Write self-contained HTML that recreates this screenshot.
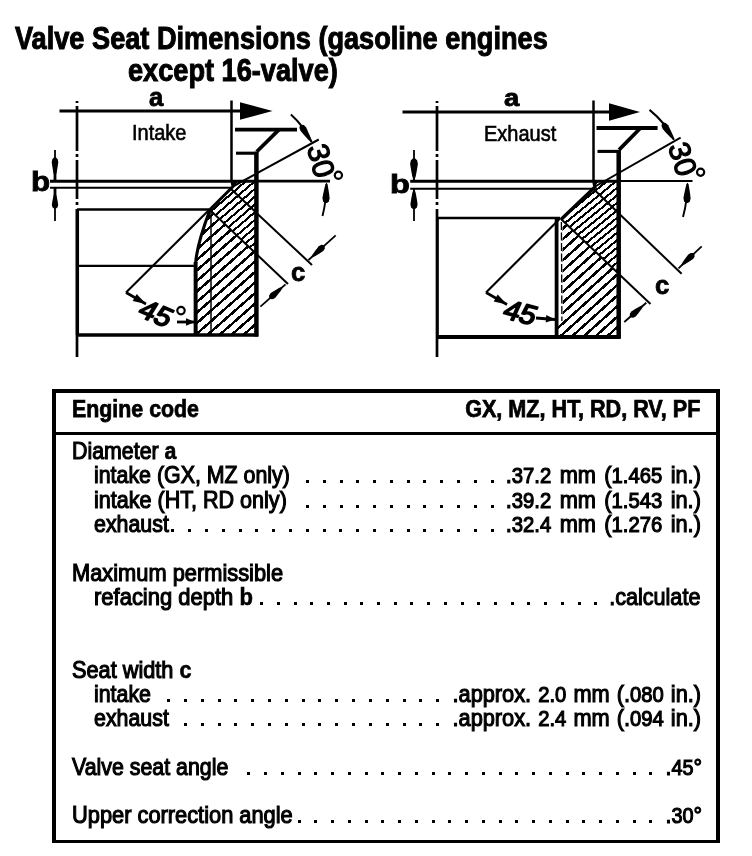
<!DOCTYPE html>
<html><head><meta charset="utf-8"><title>Valve Seat Dimensions</title><style>
html,body{margin:0;padding:0;background:#fff}
html{filter:grayscale(1)}
body{width:752px;height:856px;position:relative;overflow:hidden;font-family:"Liberation Sans",sans-serif;color:#000}
.t{position:absolute;white-space:pre;line-height:1;font-family:"Liberation Sans",sans-serif;color:#000}
.t b{font-weight:bold}
i{position:absolute;width:3px;height:3px;background:#000;display:block}
.fr{position:absolute;background:#000}
.hdr{position:absolute;left:54px;top:432px;width:664px;height:2.8px;background:#000}
.st{font-family:"Liberation Sans",sans-serif;fill:#000}
</style></head>
<body>
<svg width="752" height="380" viewBox="0 0 752 380" style="position:absolute;left:0;top:0"><path d="M77 101V357" stroke="#000" stroke-width="2.7" stroke-dasharray="2 3 45 3 3 3 39 3 3 4 150 0" stroke-dashoffset="0" fill="none"/><path d="M59.5 111H242" stroke="#000" stroke-width="3.1"/><path d="M240 102.3L272.5 111L240 119.7Z" fill="#000"/><path d="M231.5 100.5V182" stroke="#000" stroke-width="2.5"/><path d="M50 181.2H256.4" stroke="#000" stroke-width="3"/><path d="M256.4 181.1H330" stroke="#000" stroke-width="2.8"/><path d="M50 187.8H231" stroke="#000" stroke-width="1.9"/><path d="M55 150V160M55 205V221" stroke="#000" stroke-width="1.8"/><path d="M55 170V181M55 188V198" stroke="#000" stroke-width="2.8"/><path d="M54.6 176.5L53.4 172.7L52.4 167.0L51.7 162.1L52.4 159.0L54.0 157.5L56.0 157.5L57.6 159.0L58.3 162.1L57.6 167.0L56.6 172.7L55.4 176.5ZM55.4 192.5L56.5 195.7L57.5 200.5L58.2 204.7L57.6 207.2L56.0 208.5L54.0 208.5L52.4 207.2L51.8 204.7L52.5 200.5L53.5 195.7L54.6 192.5Z" fill="#000"/><clipPath id="cpinA"><path d="M233 181L256.4 181L256.4 254.8L210.3 209.5L233 186.5Z"/></clipPath><g clip-path="url(#cpinA)"><path d="M193.0 164.85L258.0 108.95M193.0 172.58L258.0 116.68M193.0 180.31L258.0 124.41M193.0 188.04L258.0 132.14M193.0 195.77L258.0 139.87M193.0 203.50L258.0 147.60M193.0 211.23L258.0 155.33M193.0 218.96L258.0 163.06M193.0 226.69L258.0 170.79M193.0 234.42L258.0 178.52M193.0 242.15L258.0 186.25M193.0 249.88L258.0 193.98M193.0 257.61L258.0 201.71M193.0 265.34L258.0 209.44M193.0 273.07L258.0 217.17M193.0 280.80L258.0 224.90M193.0 288.53L258.0 232.63M193.0 296.26L258.0 240.36M193.0 303.99L258.0 248.09M193.0 311.72L258.0 255.82M193.0 319.45L258.0 263.55M193.0 327.18L258.0 271.28M193.0 334.91L258.0 279.01M193.0 342.64L258.0 286.74M193.0 350.37L258.0 294.47M193.0 358.10L258.0 302.20M193.0 365.83L258.0 309.93M193.0 373.56L258.0 317.66M193.0 381.29L258.0 325.39M193.0 389.02L258.0 333.12M193.0 396.75L258.0 340.85M193.0 404.48L258.0 348.58" stroke="#000" stroke-width="2.1" fill="none" shape-rendering="crispEdges"/></g><clipPath id="cpinB"><path d="M210.3 209.5L256.4 254.8L256.4 335L195.5 335L195.5 264C196.2 252 200.8 234 210.3 209Z"/></clipPath><g clip-path="url(#cpinB)"><path d="M193.0 168.28L258.0 111.08M193.0 178.83L258.0 121.63M193.0 189.38L258.0 132.18M193.0 199.93L258.0 142.73M193.0 210.48L258.0 153.28M193.0 221.03L258.0 163.83M193.0 231.58L258.0 174.38M193.0 242.13L258.0 184.93M193.0 252.68L258.0 195.48M193.0 263.23L258.0 206.03M193.0 273.78L258.0 216.58M193.0 284.33L258.0 227.13M193.0 294.88L258.0 237.68M193.0 305.43L258.0 248.23M193.0 315.98L258.0 258.78M193.0 326.53L258.0 269.33M193.0 337.08L258.0 279.88M193.0 347.63L258.0 290.43M193.0 358.18L258.0 300.98M193.0 368.73L258.0 311.53M193.0 379.28L258.0 322.08M193.0 389.83L258.0 332.63M193.0 400.38L258.0 343.18M193.0 410.93L258.0 353.73" stroke="#000" stroke-width="2.5" fill="none" shape-rendering="crispEdges"/></g><path d="M77 209.5H209" stroke="#000" stroke-width="2.3"/><path d="M77.4 209V335" stroke="#000" stroke-width="3.3"/><path d="M77 265.8H195" stroke="#000" stroke-width="2.2"/><path d="M195.6 335V264C196.2 252 200.8 234 210.3 209" stroke="#000" stroke-width="3.1" fill="none"/><path d="M195.6 335V262" stroke="#000" stroke-width="3.9"/><path d="M211 209V335" stroke="#000" stroke-width="1.5"/><path d="M210 209.5L233 186.5L232 181.5" stroke="#000" stroke-width="3" fill="none" stroke-linejoin="round"/><path d="M76 335H258.2" stroke="#000" stroke-width="3.4"/><path d="M256.4 151.7V336.6" stroke="#000" stroke-width="4.5"/><path d="M235 129.6H297" stroke="#000" stroke-width="3.6"/><path d="M279 129.6L256.7 151.7" stroke="#000" stroke-width="3.7"/><path d="M236 153.2H256.4" stroke="#000" stroke-width="3.1"/><path d="M233.7 186L318.75 139.5" stroke="#000" stroke-width="2"/><path d="M290.9 114.5A89.5 89.5 0 0 1 311.6 142.0" stroke="#000" stroke-width="2" fill="none"/><path d="M311.2 142.3L308.1 139.5L304.0 135.0L300.6 131.0L299.4 128.0L299.9 125.7L301.6 124.7L303.9 125.1L306.2 127.5L308.3 132.2L310.7 137.8L311.9 141.8Z" fill="#000"/><path d="M326.5 184Q326.5 200 322.5 216" stroke="#000" stroke-width="1.9" fill="none"/><path d="M326.9 183.0L328.0 187.0L329.0 193.1L329.6 198.3L328.8 201.5L327.0 203.0L324.8 203.0L323.1 201.3L322.4 198.1L323.4 192.9L324.7 186.9L326.1 183.0Z" fill="#000"/><text x="0" y="10.7" transform="translate(321.4 160.5) rotate(75)" text-anchor="middle" font-size="30" stroke="#000" stroke-width="1.2" stroke-linejoin="round" class="st">30</text><circle cx="338.4" cy="175.3" r="3.6" fill="none" stroke="#000" stroke-width="2.2"/><path d="M231 188.9L312 265" stroke="#000" stroke-width="2"/><path d="M210 210L288 284" stroke="#000" stroke-width="2"/><path d="M335.7 235.3L308.5 260" stroke="#000" stroke-width="1.8"/><path d="M311.2 257.0L312.9 253.9L316.0 249.7L318.8 246.2L321.3 244.8L323.4 245.1L324.7 246.6L324.8 248.8L323.2 251.1L319.5 253.5L315.0 256.2L311.7 257.6Z" fill="#000"/><path d="M260.4 306.7L285.5 284.3" stroke="#000" stroke-width="1.8"/><path d="M282.8 287.3L281.0 290.4L277.9 294.5L275.1 298.0L272.6 299.3L270.5 299.0L269.2 297.5L269.1 295.4L270.7 293.1L274.5 290.7L278.9 288.1L282.2 286.7Z" fill="#000"/><path d="M209.5 209.5L126 292.5" stroke="#000" stroke-width="2.1"/><path d="M126 292.5L146 304" stroke="#000" stroke-width="2.6"/><path d="M146.0 304.0L132.7 301.0L136.7 294.1Z" fill="#000"/><text x="0" y="9.8" transform="translate(156.4 313.1) rotate(23) skewX(-9) scale(1.05 1)" text-anchor="middle" font-size="27.5" stroke="#000" stroke-width="1.7" stroke-linejoin="round" class="st">45</text><circle cx="181" cy="310.6" r="3.7" fill="none" stroke="#000" stroke-width="2.2"/><path d="M177 322L195 322" stroke="#000" stroke-width="2.8"/><path d="M195.0 322.0L186.0 325.8L186.0 318.2Z" fill="#000"/><path d="M437 101V357" stroke="#000" stroke-width="2.7" stroke-dasharray="2 3 45 3 3 3 39 3 3 4 150 0" stroke-dashoffset="0" fill="none"/><path d="M402.5 112H611" stroke="#000" stroke-width="3.1"/><path d="M609 103.3L640 112L609 120.7Z" fill="#000"/><path d="M593.5 100.5V182" stroke="#000" stroke-width="2.5"/><path d="M410.2 181.2H618.7" stroke="#000" stroke-width="3"/><path d="M618.7 181.1H692.5" stroke="#000" stroke-width="2.0"/><path d="M410.2 188.8H592" stroke="#000" stroke-width="1.9"/><path d="M414 150V181M414 188V221" stroke="#000" stroke-width="1.8"/><path d="M413.6 180.5L412.2 176.1L411.0 169.5L410.1 163.8L410.9 160.3L412.8 158.5L415.2 158.5L417.1 160.3L417.9 163.8L417.0 169.5L415.8 176.1L414.4 180.5ZM414.4 189.0L415.7 193.0L416.8 199.0L417.6 204.2L416.9 207.4L415.1 209.0L412.9 209.0L411.1 207.4L410.4 204.2L411.2 199.0L412.3 193.0L413.6 189.0Z" fill="#000"/><clipPath id="cpexA"><path d="M594 181L618.7 181L618.7 273.8L561.3 219L595 187Z"/></clipPath><g clip-path="url(#cpexA)"><path d="M555.0 171.45L621.0 117.33M555.0 178.93L621.0 124.81M555.0 186.41L621.0 132.29M555.0 193.89L621.0 139.77M555.0 201.37L621.0 147.25M555.0 208.85L621.0 154.73M555.0 216.33L621.0 162.21M555.0 223.81L621.0 169.69M555.0 231.29L621.0 177.17M555.0 238.77L621.0 184.65M555.0 246.25L621.0 192.13M555.0 253.73L621.0 199.61M555.0 261.21L621.0 207.09M555.0 268.69L621.0 214.57M555.0 276.17L621.0 222.05M555.0 283.65L621.0 229.53M555.0 291.13L621.0 237.01M555.0 298.61L621.0 244.49M555.0 306.09L621.0 251.97M555.0 313.57L621.0 259.45M555.0 321.05L621.0 266.93M555.0 328.53L621.0 274.41M555.0 336.01L621.0 281.89M555.0 343.49L621.0 289.37M555.0 350.97L621.0 296.85M555.0 358.45L621.0 304.33M555.0 365.93L621.0 311.81M555.0 373.41L621.0 319.29M555.0 380.89L621.0 326.77M555.0 388.37L621.0 334.25M555.0 395.85L621.0 341.73M555.0 403.33L621.0 349.21" stroke="#000" stroke-width="2.1" fill="none" shape-rendering="crispEdges"/></g><clipPath id="cpexB"><path d="M562.5 220L618.7 273.8L618.7 337L557 337L557 322L562.8 322Z"/></clipPath><g clip-path="url(#cpexB)"><path d="M555.0 161.93L621.0 102.53M555.0 172.47L621.0 113.07M555.0 183.01L621.0 123.61M555.0 193.55L621.0 134.15M555.0 204.09L621.0 144.69M555.0 214.63L621.0 155.23M555.0 225.17L621.0 165.77M555.0 235.71L621.0 176.31M555.0 246.25L621.0 186.85M555.0 256.79L621.0 197.39M555.0 267.33L621.0 207.93M555.0 277.87L621.0 218.47M555.0 288.41L621.0 229.01M555.0 298.95L621.0 239.55M555.0 309.49L621.0 250.09M555.0 320.03L621.0 260.63M555.0 330.57L621.0 271.17M555.0 341.11L621.0 281.71M555.0 351.65L621.0 292.25M555.0 362.19L621.0 302.79M555.0 372.73L621.0 313.33M555.0 383.27L621.0 323.87M555.0 393.81L621.0 334.41M555.0 404.35L621.0 344.95M555.0 414.89L621.0 355.49" stroke="#000" stroke-width="2.5" fill="none" shape-rendering="crispEdges"/></g><path d="M437 218.0H560" stroke="#000" stroke-width="2.3"/><path d="M437.4 217.5V337" stroke="#000" stroke-width="2.7"/><path d="M556.6 217V337" stroke="#000" stroke-width="3.8"/><path d="M561.4 222L561.9 321" stroke="#000" stroke-width="1.3" stroke-dasharray="8 2.5"/><path d="M561 219.5L595 187L594 182" stroke="#000" stroke-width="3.5" fill="none" stroke-linejoin="round"/><path d="M436 337H620.5" stroke="#000" stroke-width="3.9"/><path d="M618.7 149.9V338.6" stroke="#000" stroke-width="4.5"/><path d="M596.5 128H657.6" stroke="#000" stroke-width="4.2"/><path d="M640.5 128L619.0 149.9" stroke="#000" stroke-width="3.7"/><path d="M597.5 151.4H618.7" stroke="#000" stroke-width="3.1"/><path d="M596 186L680.6 137.6" stroke="#000" stroke-width="2"/><path d="M649.5 109.9A90.8 90.8 0 0 1 673.9 139.8" stroke="#000" stroke-width="2" fill="none"/><path d="M673.6 140.0L670.4 137.3L666.2 132.9L662.7 129.0L661.5 126.0L661.9 123.7L663.6 122.6L665.8 123.0L668.2 125.3L670.5 130.0L673.0 135.6L674.2 139.6Z" fill="#000"/><path d="M687.5 184Q687.5 200 683 217" stroke="#000" stroke-width="1.9" fill="none"/><path d="M687.9 183.0L689.0 187.0L690.0 193.1L690.6 198.3L689.8 201.5L688.0 203.0L685.8 203.0L684.1 201.3L683.4 198.1L684.4 192.9L685.7 186.9L687.1 183.0Z" fill="#000"/><text x="0" y="10.7" transform="translate(683 158.9) rotate(72)" text-anchor="middle" font-size="30" stroke="#000" stroke-width="1.2" stroke-linejoin="round" class="st">30</text><circle cx="700.6" cy="172.25" r="3.6" fill="none" stroke="#000" stroke-width="2.2"/><path d="M594 189.5L681.6 273.8" stroke="#000" stroke-width="2"/><path d="M561 219L650.5 304" stroke="#000" stroke-width="2"/><path d="M701.7 246.3L678.5 268.3" stroke="#000" stroke-width="1.8"/><path d="M681.1 265.3L682.8 262.1L685.8 257.8L688.5 254.3L690.9 252.9L693.1 253.1L694.4 254.6L694.6 256.7L693.0 259.1L689.3 261.6L684.9 264.3L681.7 265.8Z" fill="#000"/><path d="M624.3 322L646.3 302.8" stroke="#000" stroke-width="1.8"/><path d="M643.5 305.7L641.7 308.8L638.6 313.0L635.7 316.4L633.2 317.7L631.1 317.4L629.8 315.9L629.8 313.7L631.4 311.4L635.2 309.1L639.7 306.5L643.0 305.1Z" fill="#000"/><path d="M560 218.5L486 292.5" stroke="#000" stroke-width="2.1"/><path d="M486 292.5L507 304.5" stroke="#000" stroke-width="2.6"/><path d="M507.0 304.5L493.7 301.5L497.7 294.6Z" fill="#000"/><text x="0" y="9.8" transform="translate(520.7 312.3) rotate(15) skewX(-9) scale(1.05 1)" text-anchor="middle" font-size="27.5" stroke="#000" stroke-width="1.7" stroke-linejoin="round" class="st">45</text><path d="M536 318L555 319.5" stroke="#000" stroke-width="2.8"/><path d="M555.0 319.5L545.7 322.6L546.3 315.0Z" fill="#000"/></svg>
<div class="t" style="left:15.0px;transform-origin:0 0;top:23.06px;font-size:31px;font-weight:bold;transform:scaleX(0.876);-webkit-text-stroke:1.0px #000;">Valve Seat Dimensions (gasoline engines</div>
<div class="t" style="left:127.95px;transform-origin:0 0;top:55.36px;font-size:31px;font-weight:bold;transform:scaleX(0.876);-webkit-text-stroke:1.0px #000;">except 16-valve)</div>
<div class="fr" style="left:51.9px;top:389px;width:668.1px;height:4px"></div><div class="fr" style="left:51.9px;top:839.5px;width:668.1px;height:3.5px"></div><div class="fr" style="left:51.9px;top:389px;width:3.7px;height:454px"></div><div class="fr" style="left:716px;top:389px;width:4px;height:454px"></div><div class="hdr"></div>
<div class="t" style="left:71.6px;transform-origin:0 0;top:397.08px;font-size:24px;font-weight:bold;transform:scaleX(0.89);-webkit-text-stroke:0.75px #000;">Engine code</div>
<div class="t" style="right:51.5px;transform-origin:100% 0;top:397.08px;font-size:24px;font-weight:bold;transform:scaleX(0.9);-webkit-text-stroke:0.75px #000;">GX, MZ, HT, RD, RV, PF</div>
<div class="t" style="left:71.6px;transform-origin:0 0;top:438.98px;font-size:24px;font-weight:normal;transform:scaleX(0.89);-webkit-text-stroke:1.15px #000;">Diameter <b style="-webkit-text-stroke:0.6px #000">a</b></div>
<div class="t" style="left:94.3px;transform-origin:0 0;top:462.88px;font-size:24px;font-weight:normal;transform:scaleX(0.89);-webkit-text-stroke:1.15px #000;">intake (GX, MZ only)</div>
<div class="t" style="right:51.0px;transform-origin:100% 0;top:462.88px;font-size:24px;font-weight:normal;transform:scaleX(0.908);-webkit-text-stroke:1.15px #000;word-spacing:2.55px">.<span style="font-size:0.93em">37.2</span> mm (<span style="font-size:0.93em">1.465</span> in.)</div>
<i style="left:490.52px;top:479.90px"></i><i style="left:473.74px;top:479.90px"></i><i style="left:456.96px;top:479.90px"></i><i style="left:440.18px;top:479.90px"></i><i style="left:423.40px;top:479.90px"></i><i style="left:406.62px;top:479.90px"></i><i style="left:389.84px;top:479.90px"></i><i style="left:373.06px;top:479.90px"></i><i style="left:356.28px;top:479.90px"></i><i style="left:339.50px;top:479.90px"></i><i style="left:322.72px;top:479.90px"></i><i style="left:305.94px;top:479.90px"></i>
<div class="t" style="left:94.3px;transform-origin:0 0;top:487.58px;font-size:24px;font-weight:normal;transform:scaleX(0.898);-webkit-text-stroke:1.15px #000;">intake (HT, RD only)</div>
<div class="t" style="right:51.0px;transform-origin:100% 0;top:487.58px;font-size:24px;font-weight:normal;transform:scaleX(0.908);-webkit-text-stroke:1.15px #000;word-spacing:2.55px">.<span style="font-size:0.93em">39.2</span> mm (<span style="font-size:0.93em">1.543</span> in.)</div>
<i style="left:490.52px;top:504.60px"></i><i style="left:473.74px;top:504.60px"></i><i style="left:456.96px;top:504.60px"></i><i style="left:440.18px;top:504.60px"></i><i style="left:423.40px;top:504.60px"></i><i style="left:406.62px;top:504.60px"></i><i style="left:389.84px;top:504.60px"></i><i style="left:373.06px;top:504.60px"></i><i style="left:356.28px;top:504.60px"></i><i style="left:339.50px;top:504.60px"></i><i style="left:322.72px;top:504.60px"></i><i style="left:305.94px;top:504.60px"></i>
<div class="t" style="left:94.3px;transform-origin:0 0;top:512.08px;font-size:24px;font-weight:normal;transform:scaleX(0.89);-webkit-text-stroke:1.15px #000;">exhaust</div>
<div class="t" style="right:51.0px;transform-origin:100% 0;top:512.08px;font-size:24px;font-weight:normal;transform:scaleX(0.908);-webkit-text-stroke:1.15px #000;word-spacing:2.55px">.<span style="font-size:0.93em">32.4</span> mm (<span style="font-size:0.93em">1.276</span> in.)</div>
<i style="left:490.50px;top:529.10px"></i><i style="left:473.70px;top:529.10px"></i><i style="left:456.90px;top:529.10px"></i><i style="left:440.10px;top:529.10px"></i><i style="left:423.30px;top:529.10px"></i><i style="left:406.50px;top:529.10px"></i><i style="left:389.70px;top:529.10px"></i><i style="left:372.90px;top:529.10px"></i><i style="left:356.10px;top:529.10px"></i><i style="left:339.30px;top:529.10px"></i><i style="left:322.50px;top:529.10px"></i><i style="left:305.70px;top:529.10px"></i><i style="left:288.90px;top:529.10px"></i><i style="left:272.10px;top:529.10px"></i><i style="left:255.30px;top:529.10px"></i><i style="left:238.50px;top:529.10px"></i><i style="left:221.70px;top:529.10px"></i><i style="left:204.90px;top:529.10px"></i><i style="left:188.10px;top:529.10px"></i><i style="left:171.30px;top:529.10px"></i>
<div class="t" style="left:71.6px;transform-origin:0 0;top:560.58px;font-size:24px;font-weight:normal;transform:scaleX(0.9095);-webkit-text-stroke:1.15px #000;">Maximum permissible</div>
<div class="t" style="left:94.3px;transform-origin:0 0;top:585.08px;font-size:24px;font-weight:normal;transform:scaleX(0.916);-webkit-text-stroke:1.15px #000;">refacing depth <b style="-webkit-text-stroke:0.6px #000">b</b></div>
<div class="t" style="right:51.5px;transform-origin:100% 0;top:585.08px;font-size:24px;font-weight:normal;transform:scaleX(0.9);-webkit-text-stroke:1.15px #000;">.calculate</div>
<i style="left:594.29px;top:602.10px"></i><i style="left:577.58px;top:602.10px"></i><i style="left:560.87px;top:602.10px"></i><i style="left:544.16px;top:602.10px"></i><i style="left:527.45px;top:602.10px"></i><i style="left:510.74px;top:602.10px"></i><i style="left:494.03px;top:602.10px"></i><i style="left:477.32px;top:602.10px"></i><i style="left:460.61px;top:602.10px"></i><i style="left:443.90px;top:602.10px"></i><i style="left:427.19px;top:602.10px"></i><i style="left:410.48px;top:602.10px"></i><i style="left:393.77px;top:602.10px"></i><i style="left:377.06px;top:602.10px"></i><i style="left:360.35px;top:602.10px"></i><i style="left:343.64px;top:602.10px"></i><i style="left:326.93px;top:602.10px"></i><i style="left:310.22px;top:602.10px"></i><i style="left:293.51px;top:602.10px"></i><i style="left:276.80px;top:602.10px"></i><i style="left:260.09px;top:602.10px"></i>
<div class="t" style="left:71.6px;transform-origin:0 0;top:658.08px;font-size:24px;font-weight:normal;transform:scaleX(0.905);-webkit-text-stroke:1.15px #000;">Seat width <b style="-webkit-text-stroke:0.6px #000">c</b></div>
<div class="t" style="left:94.3px;transform-origin:0 0;top:682.08px;font-size:24px;font-weight:normal;transform:scaleX(0.89);-webkit-text-stroke:1.15px #000;">intake</div>
<div class="t" style="right:51.0px;transform-origin:100% 0;top:682.08px;font-size:24px;font-weight:normal;transform:scaleX(0.907);-webkit-text-stroke:1.15px #000;word-spacing:1.1px">.approx. <span style="font-size:0.93em">2.0</span> mm (.<span style="font-size:0.93em">080</span> in.)</div>
<i style="left:436.18px;top:699.10px"></i><i style="left:419.36px;top:699.10px"></i><i style="left:402.54px;top:699.10px"></i><i style="left:385.72px;top:699.10px"></i><i style="left:368.90px;top:699.10px"></i><i style="left:352.08px;top:699.10px"></i><i style="left:335.26px;top:699.10px"></i><i style="left:318.44px;top:699.10px"></i><i style="left:301.62px;top:699.10px"></i><i style="left:284.80px;top:699.10px"></i><i style="left:267.98px;top:699.10px"></i><i style="left:251.16px;top:699.10px"></i><i style="left:234.34px;top:699.10px"></i><i style="left:217.52px;top:699.10px"></i><i style="left:200.70px;top:699.10px"></i><i style="left:183.88px;top:699.10px"></i><i style="left:167.06px;top:699.10px"></i>
<div class="t" style="left:94.3px;transform-origin:0 0;top:706.08px;font-size:24px;font-weight:normal;transform:scaleX(0.89);-webkit-text-stroke:1.15px #000;">exhaust</div>
<div class="t" style="right:51.0px;transform-origin:100% 0;top:706.08px;font-size:24px;font-weight:normal;transform:scaleX(0.907);-webkit-text-stroke:1.15px #000;word-spacing:1.1px">.approx. <span style="font-size:0.93em">2.4</span> mm (.<span style="font-size:0.93em">094</span> in.)</div>
<i style="left:436.18px;top:723.10px"></i><i style="left:419.36px;top:723.10px"></i><i style="left:402.54px;top:723.10px"></i><i style="left:385.72px;top:723.10px"></i><i style="left:368.90px;top:723.10px"></i><i style="left:352.08px;top:723.10px"></i><i style="left:335.26px;top:723.10px"></i><i style="left:318.44px;top:723.10px"></i><i style="left:301.62px;top:723.10px"></i><i style="left:284.80px;top:723.10px"></i><i style="left:267.98px;top:723.10px"></i><i style="left:251.16px;top:723.10px"></i><i style="left:234.34px;top:723.10px"></i><i style="left:217.52px;top:723.10px"></i><i style="left:200.70px;top:723.10px"></i><i style="left:183.88px;top:723.10px"></i>
<div class="t" style="left:71.6px;transform-origin:0 0;top:754.78px;font-size:24px;font-weight:normal;transform:scaleX(0.89);-webkit-text-stroke:1.15px #000;">Valve seat angle</div>
<div class="t" style="right:50.0px;transform-origin:100% 0;top:754.78px;font-size:24px;font-weight:normal;transform:scaleX(0.89);-webkit-text-stroke:1.15px #000;">.<span style="font-size:0.93em">45</span>&deg;</div>
<i style="left:649.25px;top:771.80px"></i><i style="left:632.50px;top:771.80px"></i><i style="left:615.75px;top:771.80px"></i><i style="left:599.00px;top:771.80px"></i><i style="left:582.25px;top:771.80px"></i><i style="left:565.50px;top:771.80px"></i><i style="left:548.75px;top:771.80px"></i><i style="left:532.00px;top:771.80px"></i><i style="left:515.25px;top:771.80px"></i><i style="left:498.50px;top:771.80px"></i><i style="left:481.75px;top:771.80px"></i><i style="left:465.00px;top:771.80px"></i><i style="left:448.25px;top:771.80px"></i><i style="left:431.50px;top:771.80px"></i><i style="left:414.75px;top:771.80px"></i><i style="left:398.00px;top:771.80px"></i><i style="left:381.25px;top:771.80px"></i><i style="left:364.50px;top:771.80px"></i><i style="left:347.75px;top:771.80px"></i><i style="left:331.00px;top:771.80px"></i><i style="left:314.25px;top:771.80px"></i><i style="left:297.50px;top:771.80px"></i><i style="left:280.75px;top:771.80px"></i><i style="left:264.00px;top:771.80px"></i><i style="left:247.25px;top:771.80px"></i>
<div class="t" style="left:71.6px;transform-origin:0 0;top:803.28px;font-size:24px;font-weight:normal;transform:scaleX(0.909);-webkit-text-stroke:1.15px #000;">Upper correction angle</div>
<div class="t" style="right:50.0px;transform-origin:100% 0;top:803.28px;font-size:24px;font-weight:normal;transform:scaleX(0.89);-webkit-text-stroke:1.15px #000;">.<span style="font-size:0.93em">30</span>&deg;</div>
<i style="left:649.25px;top:820.30px"></i><i style="left:632.50px;top:820.30px"></i><i style="left:615.75px;top:820.30px"></i><i style="left:599.00px;top:820.30px"></i><i style="left:582.25px;top:820.30px"></i><i style="left:565.50px;top:820.30px"></i><i style="left:548.75px;top:820.30px"></i><i style="left:532.00px;top:820.30px"></i><i style="left:515.25px;top:820.30px"></i><i style="left:498.50px;top:820.30px"></i><i style="left:481.75px;top:820.30px"></i><i style="left:465.00px;top:820.30px"></i><i style="left:448.25px;top:820.30px"></i><i style="left:431.50px;top:820.30px"></i><i style="left:414.75px;top:820.30px"></i><i style="left:398.00px;top:820.30px"></i><i style="left:381.25px;top:820.30px"></i><i style="left:364.50px;top:820.30px"></i><i style="left:347.75px;top:820.30px"></i><i style="left:331.00px;top:820.30px"></i><i style="left:314.25px;top:820.30px"></i><i style="left:297.50px;top:820.30px"></i>
<div class="t" style="left:131.7px;transform-origin:0 0;top:121.40px;font-size:22.8px;font-weight:normal;transform:scaleX(0.877);-webkit-text-stroke:0.65px #000;">Intake</div>
<div class="t" style="left:484px;transform-origin:0 0;top:122.10px;font-size:22.8px;font-weight:normal;transform:scaleX(0.877);-webkit-text-stroke:0.65px #000;">Exhaust</div>
<div class="t" style="left:149.0px;transform-origin:0 0;top:83.87px;font-size:26.5px;font-weight:bold;transform:scaleX(0.97);-webkit-text-stroke:0.8px #000;">a</div>
<div class="t" style="left:503.9px;transform-origin:0 0;top:86.36px;font-size:24.5px;font-weight:bold;transform:scaleX(1.12);-webkit-text-stroke:0.8px #000;">a</div>
<div class="t" style="left:30.599999999999998px;transform-origin:0 0;top:168.74px;font-size:27px;font-weight:bold;transform:scaleX(1.16);-webkit-text-stroke:0.8px #000;">b</div>
<div class="t" style="left:390.15000000000003px;transform-origin:0 0;top:171.77px;font-size:25.2px;font-weight:bold;transform:scaleX(1.29);-webkit-text-stroke:0.8px #000;">b</div>
<div class="t" style="left:291.0px;transform-origin:0 0;top:258.97px;font-size:26.5px;font-weight:bold;transform:scaleX(0.97);-webkit-text-stroke:0.8px #000;">c</div>
<div class="t" style="left:655.4000000000001px;transform-origin:0 0;top:271.57px;font-size:26.5px;font-weight:bold;transform:scaleX(0.97);-webkit-text-stroke:0.8px #000;">c</div>
</body></html>
